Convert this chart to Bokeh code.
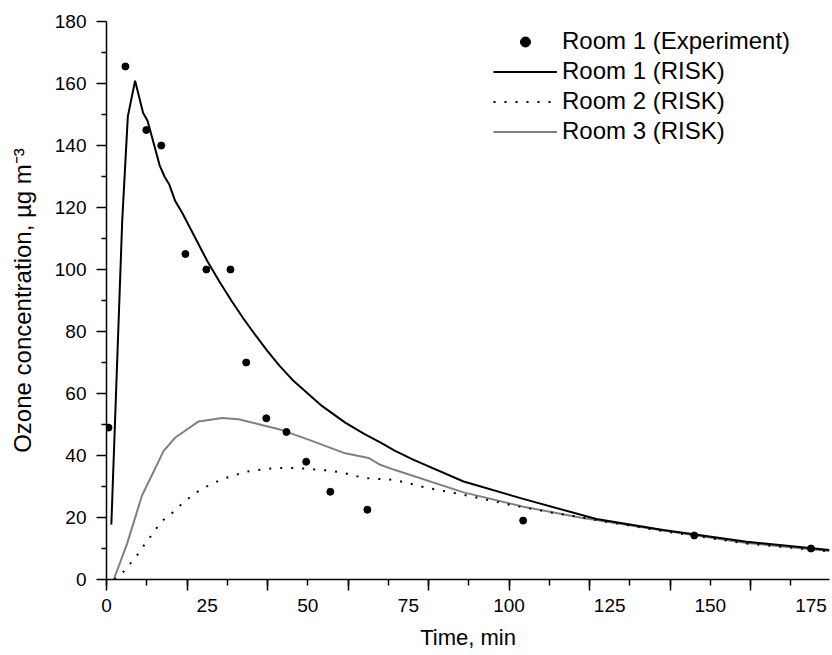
from bokeh.plotting import figure
from bokeh.models import FixedTicker, LinearAxis, Legend, LegendItem, Range1d
from bokeh.embed import file_html
from bokeh.resources import INLINE

# Room 1 experiment (time in min, ozone in µg m-3)
exp_time = [0.5, 4.7, 9.9, 13.6, 19.6, 24.8, 30.8, 34.7, 39.7, 44.7, 49.6, 55.6, 64.8, 103.5, 146.0, 175.0]
exp_conc = [49.0, 165.5, 145.0, 140.0, 105.0, 100.0, 100.0, 70.0, 52.0, 47.6, 38.0, 28.3, 22.5, 19.0, 14.2, 10.0]

# Room 1 (RISK)
r1_time = [1.2, 3.9, 5.3, 7.1, 9.1, 10.2, 13.2, 14.4, 15.6, 17.1, 18.8, 22.0, 25.0, 28.0, 31.0, 34.0,
           37.0, 40.0, 43.0, 46.5, 53.5, 59.3, 64.0, 68.0, 71.7, 76.3, 88.7, 103.5, 121.7, 138.3, 159.0, 179.6]
r1_conc = [17.7, 115.6, 149.4, 160.9, 150.5, 148.0, 133.6, 130.0, 127.4, 122.0, 118.3, 110.3, 102.8, 96.2,
           90.0, 84.2, 78.8, 73.7, 68.9, 64.0, 56.0, 50.6, 47.0, 44.2, 41.5, 38.6, 31.6, 26.0, 19.5, 16.0, 12.2, 9.5]

# Room 2 (RISK)
r2_time = [2.0, 3.9, 6.0, 8.0, 9.7, 11.7, 13.4, 16.0, 18.3, 21.1, 23.7, 26.2, 28.9, 31.6, 34.2, 37.0, 39.6,
           42.3, 45.0, 47.5, 50.2, 52.8, 55.6, 58.0, 60.8, 63.4, 66.1, 68.8, 71.7, 79.2, 89.9, 100.2, 111.0,
           121.7, 138.3, 159.0, 179.6]
r2_conc = [0.0, 2.0, 5.3, 8.5, 11.8, 15.1, 18.5, 21.1, 23.9, 26.9, 29.3, 30.8, 32.5, 33.5, 34.7, 35.2, 35.7,
           35.9, 36.0, 35.9, 35.7, 35.4, 35.1, 34.6, 33.8, 32.9, 32.5, 32.4, 32.1, 29.7, 27.0, 24.1, 21.5,
           19.2, 15.6, 11.6, 9.1]

# Room 3 (RISK)
r3_time = [1.8, 5.1, 8.8, 14.2, 17.1, 22.9, 28.7, 32.8, 37.8, 43.6, 51.0, 59.3, 65.1, 68.0, 71.7, 88.7,
           103.5, 117.6, 138.3, 159.0, 179.6]
r3_conc = [0.0, 11.5, 27.0, 41.5, 45.8, 51.0, 52.1, 51.7, 50.1, 48.2, 44.7, 40.7, 39.2, 37.0, 35.3, 28.1,
           23.5, 20.0, 15.8, 11.8, 9.2]

x_long_ticks = [0, 20, 40, 60, 80, 100, 120, 140, 160, 180]
x_all_ticks = [0, 10, 20, 30, 40, 50, 60, 70, 80, 90, 100, 110, 120, 130, 140, 150, 160, 170, 180]
x_labels = [0, 25, 50, 75, 100, 125, 150, 175]
y_major = [0, 20, 40, 60, 80, 100, 120, 140, 160, 180]
y_minor = [10, 30, 50, 70, 90, 110, 130, 150, 170]

FONT = "Liberation Sans"

p = figure(width=832, height=655, output_backend="svg", toolbar_location=None,
           x_range=Range1d(0, 179.6), y_range=Range1d(0, 180),
           min_border_left=106, min_border_top=21, min_border_right=3, min_border_bottom=76)
p.outline_line_color = None
p.grid.grid_line_color = None
p.background_fill_color = "white"

# y axis
ya = p.yaxis[0]
ya.ticker = FixedTicker(ticks=y_major, minor_ticks=y_minor)
ya.major_tick_out = 10
ya.major_tick_in = 0
ya.minor_tick_out = 5
ya.minor_tick_in = 0
ya.major_tick_line_color = "black"
ya.minor_tick_line_color = "black"
ya.major_tick_line_width = 1.5
ya.minor_tick_line_width = 1.5
ya.axis_line_color = "black"
ya.axis_line_width = 1.5
ya.major_label_standoff = 10
ya.major_label_text_font = FONT
ya.major_label_text_font_size = "19px"
ya.major_label_text_color = "black"
ya.axis_label = "Ozone concentration, µg m⁻³"
ya.axis_label_text_font = FONT
ya.axis_label_text_font_size = "24px"
ya.axis_label_text_font_style = "normal"
ya.axis_label_text_color = "black"
ya.axis_label_standoff = 16

# x axis line with short ticks every 10 (no labels)
xa = p.xaxis[0]
xa.ticker = FixedTicker(ticks=[], minor_ticks=x_all_ticks)
xa.major_tick_out = 0
xa.major_tick_in = 0
xa.minor_tick_out = 6
xa.minor_tick_in = 0
xa.minor_tick_line_color = "black"
xa.minor_tick_line_width = 1.5
xa.axis_line_color = "black"
xa.axis_line_width = 1.5
xa.major_label_standoff = 0

# x axis with labels and the long ticks every 20
xl = LinearAxis(ticker=FixedTicker(ticks=x_labels, minor_ticks=x_long_ticks))
xl.axis_line_color = None
xl.major_tick_out = 0
xl.major_tick_in = 0
xl.major_tick_line_color = None
xl.minor_tick_out = 5
xl.minor_tick_in = 6
xl.minor_tick_line_color = "black"
xl.minor_tick_line_width = 1.5
xl.major_label_standoff = 8
xl.major_label_text_font = FONT
xl.major_label_text_font_size = "19px"
xl.major_label_text_color = "black"
xl.axis_label = "Time, min"
xl.axis_label_text_font = FONT
xl.axis_label_text_font_size = "22px"
xl.axis_label_text_font_style = "normal"
xl.axis_label_text_color = "black"
xl.axis_label_standoff = 10
p.add_layout(xl, "below")

r3 = p.line(r3_time, r3_conc, line_color="#808080", line_width=2)
r2 = p.line(r2_time, r2_conc, line_color="black", line_width=2, line_dash="2 9")
r1 = p.line(r1_time, r1_conc, line_color="black", line_width=2)
re = p.scatter(exp_time, exp_conc, size=7, color="black")

legend = Legend(items=[
    LegendItem(label="Room 1 (Experiment)", renderers=[re]),
    LegendItem(label="Room 1 (RISK)", renderers=[r1]),
    LegendItem(label="Room 2 (RISK)", renderers=[r2]),
    LegendItem(label="Room 3 (RISK)", renderers=[r3]),
], location=(387, 434))
legend.border_line_color = None
legend.background_fill_alpha = 0
legend.label_text_font = FONT
legend.label_text_font_size = "24px"
legend.label_text_color = "black"
legend.glyph_width = 64
legend.glyph_height = 25
legend.label_height = 25
legend.spacing = 2
legend.padding = 0
legend.margin = 0
legend.label_standoff = 5
p.add_layout(legend)

open("out.html", "w").write(file_html(p, INLINE))
